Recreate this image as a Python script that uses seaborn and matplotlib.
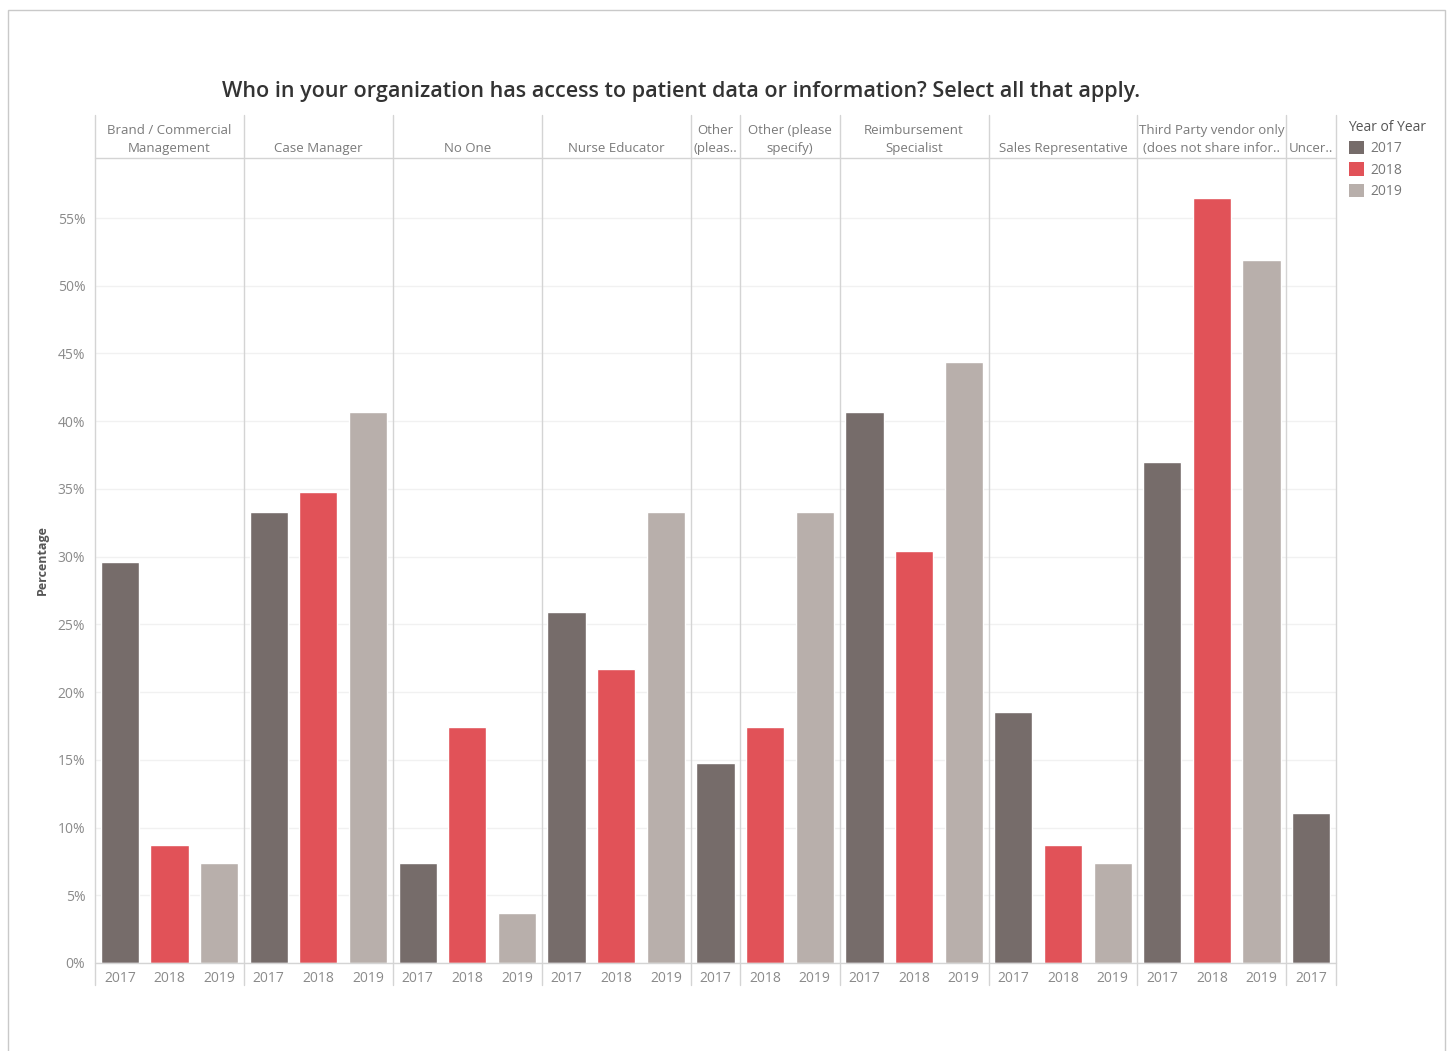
import matplotlib
matplotlib.use("Agg")
import matplotlib.pyplot as plt
import seaborn as sns
import pandas as pd
from matplotlib.lines import Line2D
from matplotlib.patches import Rectangle, Patch
from matplotlib.ticker import FuncFormatter, MultipleLocator

# ---------------- data ----------------
categories = [
    "Brand / Commercial\nManagement",
    "Case Manager",
    "No One",
    "Nurse Educator",
    "Other\n(pleas..",
    "Other (please\nspecify)",
    "Reimbursement\nSpecialist",
    "Sales Representative",
    "Third Party vendor only\n(does not share infor..",
    "Uncer..",
]
years = ["2017", "2018", "2019"]
pct_2017 = [29.6, 33.3, 7.4, 25.9, 14.8, None, 40.7, 18.5, 37.0, 11.1]
pct_2018 = [8.7, 34.8, 17.4, 21.7, None, 17.4, 30.4, 8.7, 56.5, None]
pct_2019 = [7.4, 40.7, 3.7, 33.3, None, 33.3, 44.4, 7.4, 51.9, None]
title = "Who in your organization has access to patient data or information? Select all that apply."
legend_title = "Year of Year"
y_label = "Percentage"

colors = {"2017": "#766c6a", "2018": "#e15258", "2019": "#b8afab"}

rows = []
for cat, a, b, c in zip(categories, pct_2017, pct_2018, pct_2019):
    for yr, v in zip(years, (a, b, c)):
        if v is not None:
            rows.append({"category": cat, "year": yr, "pct": v})
df = pd.DataFrame(rows)

# ---------------- layout ----------------
sns.set_theme(style="white")
plt.rcParams['font.family'] = ['Open Sans', 'DejaVu Sans']

W, H = 1448, 1051
fig = plt.figure(figsize=(W / 100, H / 100), dpi=100)


def fx(px):
    return px / W


def fy(py):
    return 1 - py / H


left_px, right_px = 95, 1336
head_top, plot_top, plot_bot, label_bot = 115, 158, 963, 985
line_col = "#d4d4d4"
tick_col = "#8a8a8a"

counts = [int((df["category"] == c).sum()) for c in categories]
gs = fig.add_gridspec(
    2, len(categories), left=fx(left_px), right=fx(right_px),
    bottom=fy(plot_bot), top=fy(head_top),
    height_ratios=[plot_top - head_top, plot_bot - plot_top],
    width_ratios=counts, wspace=0, hspace=0,
)

ymax = (plot_bot - plot_top) / ((plot_bot - 218) / 55.0)
axes = []
for i, cat in enumerate(categories):
    sub = df[df["category"] == cat]
    order = list(sub["year"])
    hax = fig.add_subplot(gs[0, i])
    hax.set_axis_off()
    hax.text(0.5, 0.08, cat, ha="center", va="bottom", fontsize=9.5,
             color="#7a7a7a", linespacing=1.45, transform=hax.transAxes)

    ax = fig.add_subplot(gs[1, i])
    sns.barplot(data=sub, x="year", y="pct", hue="year", order=order,
                hue_order=order, palette=colors, width=0.77, saturation=1,
                legend=False, ax=ax)
    ax.set_xlim(-0.5, len(order) - 0.5)
    ax.set_ylim(0, ymax)
    ax.yaxis.set_major_locator(MultipleLocator(5))
    ax.yaxis.grid(True, color="#f1f1f1", lw=1)
    ax.set_axisbelow(True)
    for s in ax.spines.values():
        s.set_visible(False)
    ax.set_xlabel("")
    ax.set_ylabel("")
    ax.tick_params(axis="x", length=0, pad=6, labelsize=10, labelcolor=tick_col)
    if i == 0:
        ax.yaxis.set_major_formatter(FuncFormatter(lambda v, p: f"{v:.0f}%"))
        ax.tick_params(axis="y", length=0, pad=7, labelsize=10, labelcolor=tick_col)
    else:
        ax.tick_params(axis="y", length=0, labelleft=False)
    axes.append(ax)

# separators
bounds = [a.get_position().x0 for a in axes] + [axes[-1].get_position().x1]
for xb in bounds:
    fig.add_artist(Line2D([xb, xb], [fy(label_bot), fy(head_top)], color=line_col, lw=1))
x0, x1 = bounds[0], bounds[-1]
fig.add_artist(Line2D([x0, x1], [fy(plot_top), fy(plot_top)], color=line_col, lw=1))
fig.add_artist(Line2D([x0, x1], [fy(plot_bot), fy(plot_bot)], color=line_col, lw=1))

# outer frame
fig.add_artist(Rectangle((fx(8), -0.01), fx(1445 - 8), fy(10) + 0.01, fill=False,
                         edgecolor="#c9c9c9", lw=1))

# title, y label
fig.text(fx(681), fy(91), title, ha="center", va="center", fontsize=15.5,
         fontweight="semibold", color="#333333")
fig.text(fx(42), fy(560), y_label, rotation=90, ha="center", va="center",
         fontsize=9, fontweight="bold", color="#555555")

# legend
handles = [Patch(facecolor=colors[y], edgecolor="none", label=y) for y in years]
leg = fig.legend(handles=handles, title=legend_title, loc="upper left",
                 bbox_to_anchor=(fx(1343), fy(114)), frameon=False, fontsize=10,
                 title_fontsize=10, handlelength=1.1, handleheight=1.1,
                 handletextpad=0.5, labelspacing=0.45, alignment="left",
                 borderaxespad=0)
leg.get_title().set_color("#555555")
for t in leg.get_texts():
    t.set_color("#777777")

fig.savefig("out.png", dpi=100, facecolor="white")
